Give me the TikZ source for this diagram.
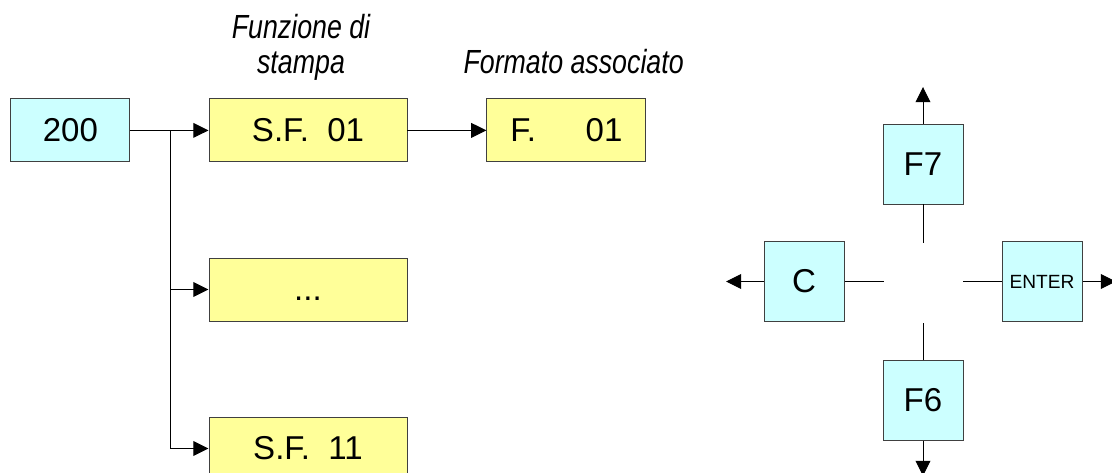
\documentclass[tikz,border=0pt]{standalone}
\usepackage{fontspec}
\setmainfont{Liberation Sans}
\newfontfamily\tagfont[FakeStretch=0.8]{Liberation Sans}
\usepackage{xcolor}
\usetikzlibrary{positioning,arrows.meta,calc}
\definecolor{keycyan}{HTML}{CCFFFF}
\definecolor{fnyellow}{HTML}{FFFF99}

\begin{document}
\begin{tikzpicture}[
    >={Triangle[length=0.38cm,width=0.37cm]},
    font=\fontsize{23.5}{28}\selectfont,
    line width=0.7pt,
    code/.style={
        draw=black!75,
        fill=keycyan,
        minimum width=2.975cm,
        minimum height=1.575cm,
        inner sep=0pt
    },
    func/.style={
        draw=black!75,
        fill=fnyellow,
        minimum width=4.95cm,
        minimum height=1.575cm,
        inner sep=0pt
    },
    fmt/.style={func, minimum width=3.975cm},
    key/.style={
        draw=black!75,
        fill=keycyan,
        minimum width=2cm,
        minimum height=2cm,
        inner sep=0pt
    },
    tag/.style={font=\tagfont\fontsize{23.8}{24.6}\selectfont\itshape, align=center, inner sep=0pt},
    arr/.style={->}
]
\useasboundingbox (0,0) rectangle (27.8,11.8);

% menu tree
\node[code] (n200) at (1.76,8.54) {200};
\node[func] (sf01) at (7.7,8.54) {S.F.\ \ 01};
\node[func] (dots) at (7.7,4.5625) {\vphantom{S}...};
\node[func] (sf11) at (7.7,0.5875) {S.F.\ \ 11};
\node[fmt] (f01) at (14.16,8.54) {F.\hspace{1.5em}01};

\node[tag] (funz) at (7.525,10.62) {Funzione di\\stampa};
\node[tag] (formato) at (14.34,10.25) {Formato associato};

\coordinate (split) at (4.25,8.54);

\draw[arr] (n200) -- (sf01);
\draw (split) -- (split |- sf11);
\draw[arr] (split |- dots) -- (dots);
\draw[arr] (split |- sf11) -- (sf11);
\draw[arr] (sf01) -- (f01);

% keys
\coordinate (mid) at (23.075,4.7625);
\node[key] (f7) at (23.075,7.7) {F7};
\node[key] (kc) at (20.1,4.7625) {C};
\node[key] (enter) at (26.05,4.7625) {\fontsize{13.6}{16}\selectfont ENTER};
\node[key] (f6) at (23.075,1.7875) {F6};

\coordinate (gapn) at ($(mid)+(0,0.96)$);
\coordinate (gapw) at ($(mid)+(-0.975,0)$);
\coordinate (gape) at ($(mid)+(1.0,0)$);
\coordinate (gaps) at ($(mid)+(0,-1.04)$);

\coordinate (outn) at (23.075,9.625);
\coordinate (outw) at (18.15,4.7625);
\coordinate (oute) at (27.9,4.7625);
\coordinate (outs) at (23.075,-0.1);

\draw (f7) -- (gapn);
\draw (kc) -- (gapw);
\draw (enter) -- (gape);
\draw (f6) -- (gaps);

\draw[arr] (f7) -- (outn);
\draw[arr] (kc) -- (outw);
\draw[arr] (enter) -- (oute);
\draw[arr] (f6) -- (outs);

\end{tikzpicture}
\end{document}
